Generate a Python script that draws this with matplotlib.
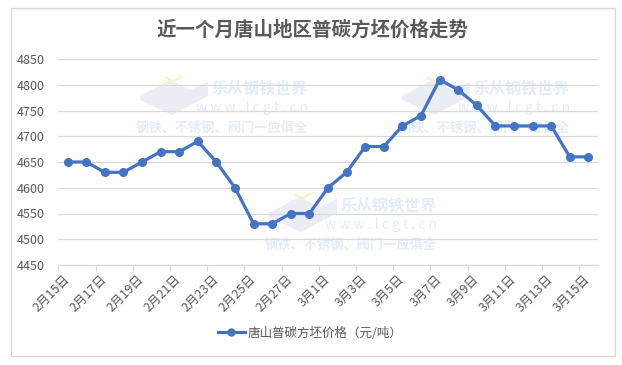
import matplotlib
matplotlib.use('Agg')
import matplotlib.pyplot as plt
from matplotlib.patches import Rectangle, Polygon
from matplotlib.lines import Line2D
import numpy as np

plt.rcParams['font.family'] = ['Noto Sans CJK SC', 'DejaVu Sans']

# ── Data ──────────────────────────────────────────────────────────────────────
dates = ['2月15日', '2月16日', '2月17日', '2月18日', '2月19日', '2月20日', '2月21日',
         '2月22日', '2月23日', '2月24日', '2月25日', '2月26日', '2月27日', '2月28日',
         '3月1日', '3月2日', '3月3日', '3月4日', '3月5日', '3月6日', '3月7日',
         '3月8日', '3月9日', '3月10日', '3月11日', '3月12日', '3月13日', '3月14日',
         '3月15日']
prices = [4650, 4650, 4630, 4630, 4650, 4670, 4670, 4690, 4650, 4600, 4530, 4530,
          4550, 4550, 4600, 4630, 4680, 4680, 4720, 4740, 4810, 4790, 4760, 4720,
          4720, 4720, 4720, 4660, 4660]
yticks = [4450, 4500, 4550, 4600, 4650, 4700, 4750, 4800, 4850]

title = '近一个月唐山地区普碳方坯价格走势'
series_name = '唐山普碳方坯价格（元/吨）'

W, H = 622, 365
BLUE = '#4472C4'
GREY = '#595959'
GRID = '#D9D9D9'

fig = plt.figure(figsize=(W / 100, H / 100), dpi=100)

def px(x, y):
    # pixel coords (from top-left) -> figure fraction
    return x / W, 1 - y / H

# ── Axes ──────────────────────────────────────────────────────────────────────
l, b = px(58.3, 265)
r, t = px(597.7, 59)
ax = fig.add_axes([l, b, r - l, t - b])
ax.set_facecolor('none')

x = np.arange(len(dates))
ax.plot(x, prices, color=BLUE, lw=2.3, marker='o', ms=5.5, zorder=3)

ax.set_xlim(-0.5, len(dates) - 0.5)
ax.set_ylim(yticks[0], yticks[-1])
ax.set_yticks(yticks)
ax.grid(axis='y', color=GRID, lw=0.9)
ax.set_axisbelow(True)

ax.set_xticks(x[::2])
ax.set_xticklabels(dates[::2], rotation=45, ha='right', va='center',
                   rotation_mode='anchor')
ax.set_xticks(np.arange(-0.5, len(dates) - 1, 2), minor=True)
ax.tick_params(axis='x', which='major', length=0, pad=9, labelsize=9, labelcolor=GREY)
ax.tick_params(axis='x', which='minor', length=4, color=GRID, width=0.9)
ax.tick_params(axis='y', length=0, pad=10, labelsize=9, labelcolor=GREY)

for s in ['left', 'right', 'top']:
    ax.spines[s].set_visible(False)
ax.spines['bottom'].set_color(GRID)
ax.spines['bottom'].set_linewidth(0.9)

# ── Watermarks ────────────────────────────────────────────────────────────────
WM = '#E2EDF8'
def watermark(xr, y0):
    # xr = right edge of the text block, y0 = first row centre (pixels)
    fig.text(*px(xr, y0), '乐从钢铁世界', ha='right', va='center', fontsize=11.5,
             fontweight='bold', color=WM, zorder=-1)
    fig.text(*px(xr, y0 + 20), 'w w w . l c g t . c n', ha='right', va='center',
             fontsize=10, color=WM, zorder=-1)
    fig.text(*px(xr, y0 + 40), '钢铁、不锈钢、阀门一应俱全', ha='right', va='center',
             fontsize=9.5, fontweight='bold', color=WM, zorder=-1)
    lx = xr - 168
    body = [(lx, y0 + 8), (lx + 30, y0 - 8), (lx + 50, y0 + 2), (lx + 68, y0 - 6),
            (lx + 68, y0 + 8), (lx + 32, y0 + 27), (lx, y0 + 12)]
    fig.add_artist(Polygon([px(*p) for p in body], closed=True, facecolor='#EAEEF4',
                           edgecolor='none', transform=fig.transFigure, zorder=-1))
    chev = [(lx + 25, y0 - 12), (lx + 33, y0 - 8), (lx + 42, y0 - 13), (lx + 42, y0 - 10),
            (lx + 33, y0 - 5), (lx + 25, y0 - 9)]
    fig.add_artist(Polygon([px(*p) for p in chev], closed=True, facecolor='#FBF0C6',
                           edgecolor='none', transform=fig.transFigure, zorder=-1))

watermark(308, 88)
watermark(570, 88)
watermark(437, 205)

# ── Title, legend, border ─────────────────────────────────────────────────────
fig.text(*px(313, 30), title, ha='center', va='center', fontsize=14,
         fontweight='bold', color=GREY)

handle = Line2D([], [], color=BLUE, lw=2.3, marker='o', ms=5)
fig.legend([handle], [series_name], loc='center', bbox_to_anchor=px(310, 333),
           frameon=False, fontsize=9, handlelength=2.2, handletextpad=0.2,
           labelcolor=GREY)

x0, y0 = px(10.5, 355.5)
x1, y1 = px(614.5, 8.5)
fig.add_artist(Rectangle((x0, y0), x1 - x0, y1 - y0, transform=fig.transFigure,
                         facecolor='none', edgecolor=GRID, lw=1))

fig.savefig('out.png', dpi=100)
